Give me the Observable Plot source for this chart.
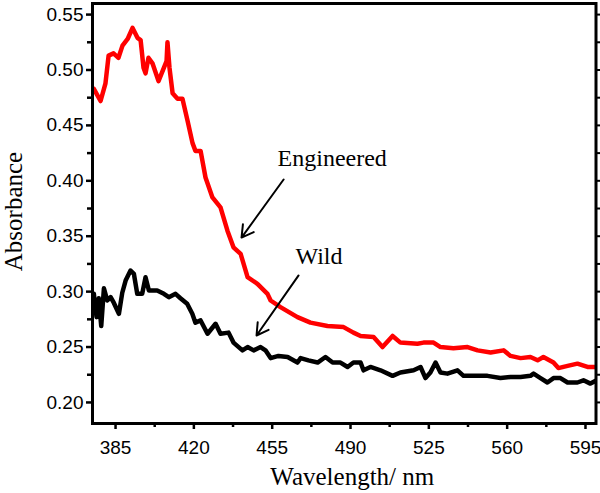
<!DOCTYPE html>
<html>
<head>
<meta charset="utf-8">
<script src="https://cdn.jsdelivr.net/npm/d3@7"></script>
<script src="https://cdn.jsdelivr.net/npm/@observablehq/plot@0.6"></script>
<style>
  html, body { margin: 0; padding: 0; background: #fff; }
  #chart svg { display: block; }
</style>
</head>
<body>
<div id="chart"></div>
<script>
// Engineered (red) spectrum: wavelength (nm) and absorbance
const engWavelength = [375.3,378.3,380.5,381.9,384.1,386.3,388.1,390.4,392.6,394.8,396.2,397.5,398.4,399.7,401.5,404.2,406.0,407.8,408.2,409.1,410.5,412.7,414.9,417.2,419.4,420.7,423.0,425.2,428.3,431.9,435.0,437.7,440.9,444.0,448.4,452.9,454.3,458.7,466.3,472.1,479.7,486.9,491.3,494.5,500.3,504.3,508.8,512.3,519.9,522.6,527.1,530.2,536.0,542.3,546.8,552.6,558.4,561.5,566.0,570.4,573.6,576.2,580.7,582.9,587.0,591.4,595.9,599.5];
const engAbsorbance = [0.483,0.472,0.488,0.513,0.515,0.511,0.522,0.528,0.538,0.529,0.527,0.502,0.497,0.511,0.506,0.490,0.499,0.508,0.525,0.502,0.479,0.474,0.474,0.454,0.434,0.427,0.427,0.403,0.385,0.376,0.355,0.340,0.334,0.313,0.307,0.298,0.292,0.286,0.277,0.272,0.269,0.268,0.263,0.260,0.259,0.250,0.260,0.254,0.253,0.254,0.254,0.250,0.249,0.250,0.247,0.245,0.247,0.242,0.240,0.241,0.238,0.241,0.236,0.231,0.233,0.235,0.232,0.232];

// Wild (black) spectrum
const wildWavelength = [375.3,376.5,377.5,378.6,379.8,381.3,382.8,384.2,386.5,388.0,389.5,391.7,393.2,394.7,396.9,398.4,399.9,403.6,406.6,408.8,411.8,414.0,417.0,419.3,420.7,423.0,426.1,429.7,431.9,435.5,437.7,441.7,444.0,446.7,449.8,452.0,454.3,457.8,461.9,466.3,467.7,471.2,475.3,478.8,482.0,485.5,488.7,491.3,494.5,495.8,498.9,503.4,508.8,512.3,518.2,521.3,523.5,525.7,528.0,530.2,533.3,537.8,540.5,545.0,551.2,557.0,561.5,566.0,570.4,571.8,574.9,578.0,580.7,583.8,587.0,591.4,594.1,597.2,600.0];
const wildAbsorbance = [0.298,0.277,0.294,0.269,0.303,0.292,0.295,0.290,0.280,0.299,0.310,0.319,0.316,0.298,0.298,0.313,0.301,0.301,0.298,0.295,0.298,0.294,0.289,0.280,0.272,0.274,0.262,0.271,0.262,0.263,0.254,0.247,0.250,0.247,0.250,0.247,0.240,0.242,0.241,0.236,0.240,0.238,0.236,0.241,0.236,0.236,0.232,0.236,0.236,0.229,0.232,0.229,0.224,0.227,0.229,0.232,0.222,0.227,0.236,0.227,0.226,0.229,0.224,0.224,0.224,0.222,0.223,0.223,0.224,0.226,0.222,0.218,0.222,0.222,0.218,0.218,0.220,0.217,0.220];

// Axis ticks
const xTicks = [385, 420, 455, 490, 525, 560, 595];
const xMinorTicks = [402.5, 437.5, 472.5, 507.5, 542.5, 577.5];
const yTicks = [0.20, 0.25, 0.30, 0.35, 0.40, 0.45, 0.50, 0.55];
const yMinorTicks = [0.225, 0.275, 0.325, 0.375, 0.425, 0.475, 0.525];

// Annotations
const labels = ["Engineered", "Wild"];
const labelX = [457.4, 465.4];
const labelY = [0.4207, 0.3323];
const arrowX1 = [460.1, 466.8];
const arrowY1 = [0.4012, 0.3146];
const arrowX2 = [441.3, 448.0];
const arrowY2 = [0.3488, 0.2604];

const eng = engWavelength.map((x, i) => ({x, y: engAbsorbance[i]}));
const wild = wildWavelength.map((x, i) => ({x, y: wildAbsorbance[i]}));
const notes = labels.map((t, i) => ({t, x: labelX[i], y: labelY[i]}));
const arrows = labels.map((t, i) => ({x1: arrowX1[i], y1: arrowY1[i], x2: arrowX2[i], y2: arrowY2[i]}));

const sans = "'Liberation Sans', Arial, sans-serif";
const serif = "'Liberation Serif', 'Times New Roman', serif";

const chart = Plot.plot({
  width: 600,
  height: 493,
  marginLeft: 92,
  marginRight: 4.5,
  marginTop: 3,
  marginBottom: 70,
  style: {fontFamily: sans, background: "#fff"},
  x: {domain: [374.7, 599.7]},
  y: {domain: [0.181, 0.560]},
  marks: [
    Plot.line(wild, {x: "x", y: "y", stroke: "#000", strokeWidth: 4.5, clip: true}),
    Plot.line(eng, {x: "x", y: "y", stroke: "#ff0000", strokeWidth: 4.5, clip: true}),
    Plot.arrow(arrows, {x1: "x1", y1: "y1", x2: "x2", y2: "y2", stroke: "#000", strokeWidth: 2, headLength: 10, bend: 0}),
    Plot.text(notes, {x: "x", y: "y", text: "t", textAnchor: "start", lineAnchor: "middle", fontFamily: serif, fontSize: 24, fill: "#000"}),
    Plot.axisX({ticks: xTicks, tickSize: 6, tickPadding: 11, strokeWidth: 2.5, fontSize: 19, fill: "#000", label: null, tickFormat: d => d}),
    Plot.axisX({ticks: xMinorTicks, tickSize: 4, strokeWidth: 2.5, text: null, label: null}),
    Plot.axisY({ticks: yTicks, tickSize: 6, tickPadding: 3, strokeWidth: 2.5, fontSize: 19, fill: "#000", label: null, tickFormat: d3.format(".2f")}),
    Plot.axisY({ticks: yMinorTicks, tickSize: 5, strokeWidth: 2.5, text: null, label: null}),
    Plot.axisY({anchor: "right", ticks: yTicks.concat(yMinorTicks), tickSize: 3.5, strokeWidth: 2, text: null, label: null}),
    Plot.frame({stroke: "#000", strokeWidth: 3}),
    Plot.text(["Wavelength/ nm"], {frameAnchor: "bottom", textAnchor: "middle", lineAnchor: "middle", dx: 8, dy: 53.5, fontFamily: serif, fontSize: 25, fill: "#000"}),
    Plot.text(["Absorbance"], {frameAnchor: "left", textAnchor: "middle", lineAnchor: "middle", rotate: -90, dx: -78.5, dy: -2, fontFamily: serif, fontSize: 25, fill: "#000"})
  ]
});
document.getElementById("chart").appendChild(chart);
</script>
</body>
</html>
